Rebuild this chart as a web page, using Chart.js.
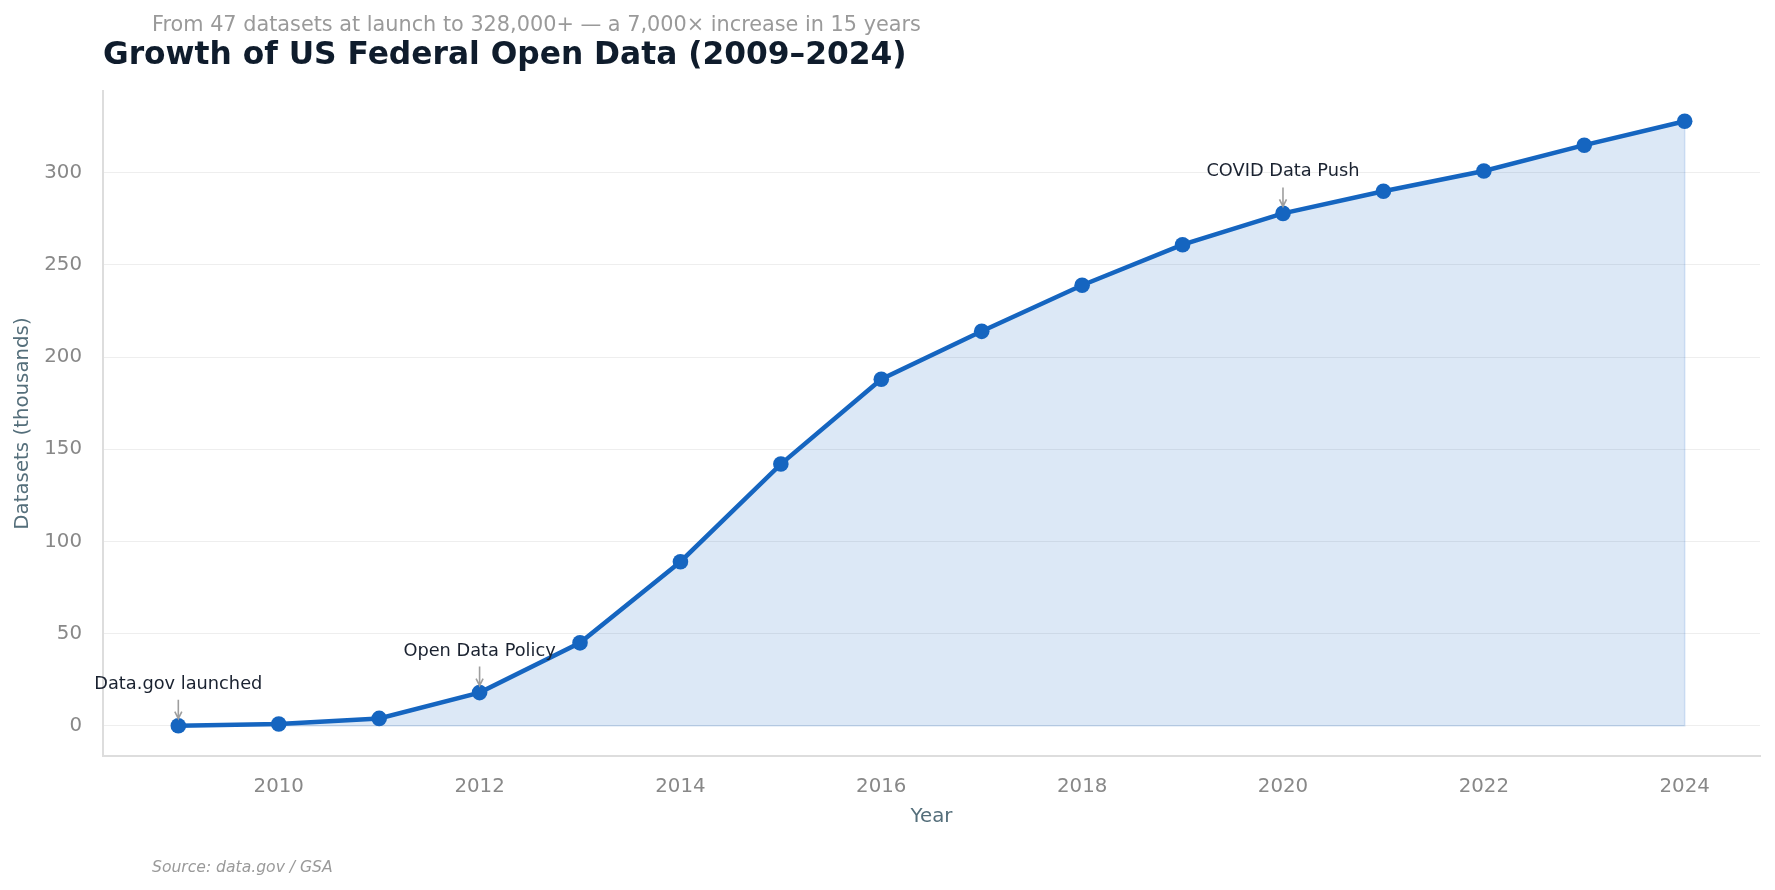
<!DOCTYPE html>
<html>
<head>
<meta charset="utf-8">
<title>Growth of US Federal Open Data</title>
<script src="https://cdn.jsdelivr.net/npm/chart.js@4.4.1/dist/chart.umd.min.js"></script>
<style>
    html, body { margin: 0; padding: 0; background: #ffffff; }
    #wrap { width: 1775px; height: 890px; position: relative; }
</style>
</head>
<body>
<div id="wrap"><canvas id="growthChart"></canvas></div>
<script>
// data (thousands of datasets)
const years = [2009, 2010, 2011, 2012, 2013, 2014, 2015, 2016, 2017, 2018, 2019, 2020, 2021, 2022, 2023, 2024];
const datasets = [0.047, 1, 4, 18, 45, 89, 142, 188, 214, 239, 261, 278, 290, 301, 315, 328];
const xTicks = [2010, 2012, 2014, 2016, 2018, 2020, 2022, 2024];
const yTicks = [0, 50, 100, 150, 200, 250, 300];
const notes = [
    { year: 2009, text: 'Data.gov launched' },
    { year: 2012, text: 'Open Data Policy' },
    { year: 2020, text: 'COVID Data Push' }
];
const titleText = 'Growth of US Federal Open Data (2009\u20132024)';
const subtitleText = 'From 47 datasets at launch to 328,000+ \u2014 a 7,000\u00d7 increase in 15 years';
const sourceText = 'Source: data.gov / GSA';

const lineBlue = '#1565c0';

Chart.defaults.font.family = '"DejaVu Sans", sans-serif';

// titles, source note, fill edges and annotations
const extrasPlugin = {
    id: 'extras',
    beforeDatasetsDraw(chart) {
        const ctx = chart.ctx;
        const x = chart.scales.x, y = chart.scales.y;
        const last = years.length - 1;
        ctx.save();
        ctx.strokeStyle = 'rgba(21,101,192,0.18)';
        ctx.lineWidth = 1.5;
        ctx.beginPath();
        ctx.moveTo(x.getPixelForValue(years[0]), y.getPixelForValue(0));
        ctx.lineTo(x.getPixelForValue(years[last]), y.getPixelForValue(0));
        ctx.lineTo(x.getPixelForValue(years[last]), y.getPixelForValue(datasets[last]));
        ctx.stroke();
        ctx.restore();
    },
    afterDatasetsDraw(chart) {
        const ctx = chart.ctx;
        const x = chart.scales.x, y = chart.scales.y;
        ctx.save();
        notes.forEach(n => {
            const i = years.indexOf(n.year);
            const px = x.getPixelForValue(n.year);
            const py = y.getPixelForValue(datasets[i]);
            ctx.fillStyle = '#1a2230';
            ctx.font = '17.8px "DejaVu Sans"';
            ctx.textAlign = 'center';
            ctx.textBaseline = 'alphabetic';
            ctx.fillText(n.text, px, py - 37);
            // arrow
            ctx.strokeStyle = '#9e9e9e';
            ctx.lineWidth = 1.6;
            ctx.beginPath();
            ctx.moveTo(px, py - 26);
            ctx.lineTo(px, py - 7);
            ctx.moveTo(px - 3.5, py - 14);
            ctx.lineTo(px, py - 7);
            ctx.lineTo(px + 3.5, py - 14);
            ctx.stroke();
        });
        ctx.restore();
    },
    afterDraw(chart) {
        const ctx = chart.ctx;
        ctx.save();
        ctx.textAlign = 'left';
        ctx.textBaseline = 'alphabetic';
        ctx.fillStyle = '#9a9a9a';
        ctx.font = '20.8px "DejaVu Sans"';
        ctx.fillText(subtitleText, 152, 31);
        ctx.fillStyle = '#0f1c2c';
        ctx.font = 'bold 31.3px "DejaVu Sans"';
        ctx.fillText(titleText, 103, 64);
        ctx.fillStyle = '#9a9a9a';
        ctx.font = 'italic 15.6px "DejaVu Sans"';
        ctx.fillText(sourceText, 152, 872);
        ctx.restore();
    }
};

new Chart(document.getElementById('growthChart'), {
    type: 'line',
    data: {
        datasets: [{
            data: years.map((yr, i) => ({ x: yr, y: datasets[i] })),
            borderColor: lineBlue,
            borderWidth: 4.5,
            backgroundColor: 'rgba(21,101,192,0.15)',
            fill: 'origin',
            pointRadius: 7.8,
            pointHoverRadius: 7.8,
            pointBackgroundColor: lineBlue,
            pointBorderColor: lineBlue,
            pointBorderWidth: 0,
            tension: 0
        }]
    },
    options: {
        responsive: true,
        maintainAspectRatio: false,
        animation: false,
        layout: { padding: { top: 91, right: 15, bottom: 61.6, left: 4 } },
        plugins: {
            legend: { display: false },
            tooltip: { enabled: false }
        },
        scales: {
            x: {
                type: 'linear',
                min: 2008.25,
                max: 2024.75,
                afterBuildTicks: axis => { axis.ticks = xTicks.map(v => ({ value: v })); },
                afterFit: axis => { axis.height = 72.4; },
                grid: { display: false, drawTicks: false },
                border: { display: true, color: '#dddddd', width: 2 },
                ticks: {
                    color: '#888888',
                    font: { size: 19.8 },
                    padding: 19,
                    maxRotation: 0,
                    callback: v => String(v)
                },
                title: {
                    display: true,
                    text: 'Year',
                    color: '#546e7a',
                    font: { size: 19.8 },
                    padding: { top: 7, bottom: 0 }
                }
            },
            y: {
                min: -16.4,
                max: 344.4,
                afterBuildTicks: axis => { axis.ticks = yTicks.map(v => ({ value: v })); },
                afterFit: axis => { axis.width = 99; },
                grid: { color: '#eeeeee', lineWidth: 1, drawTicks: false },
                border: { display: true, color: '#dddddd', width: 2 },
                ticks: {
                    color: '#888888',
                    font: { size: 19.8 },
                    padding: 21
                },
                title: {
                    display: true,
                    text: 'Datasets (thousands)',
                    color: '#546e7a',
                    font: { size: 19.8 },
                    padding: { top: 7, bottom: 11 }
                }
            }
        }
    },
    plugins: [extrasPlugin]
});
</script>
</body>
</html>
